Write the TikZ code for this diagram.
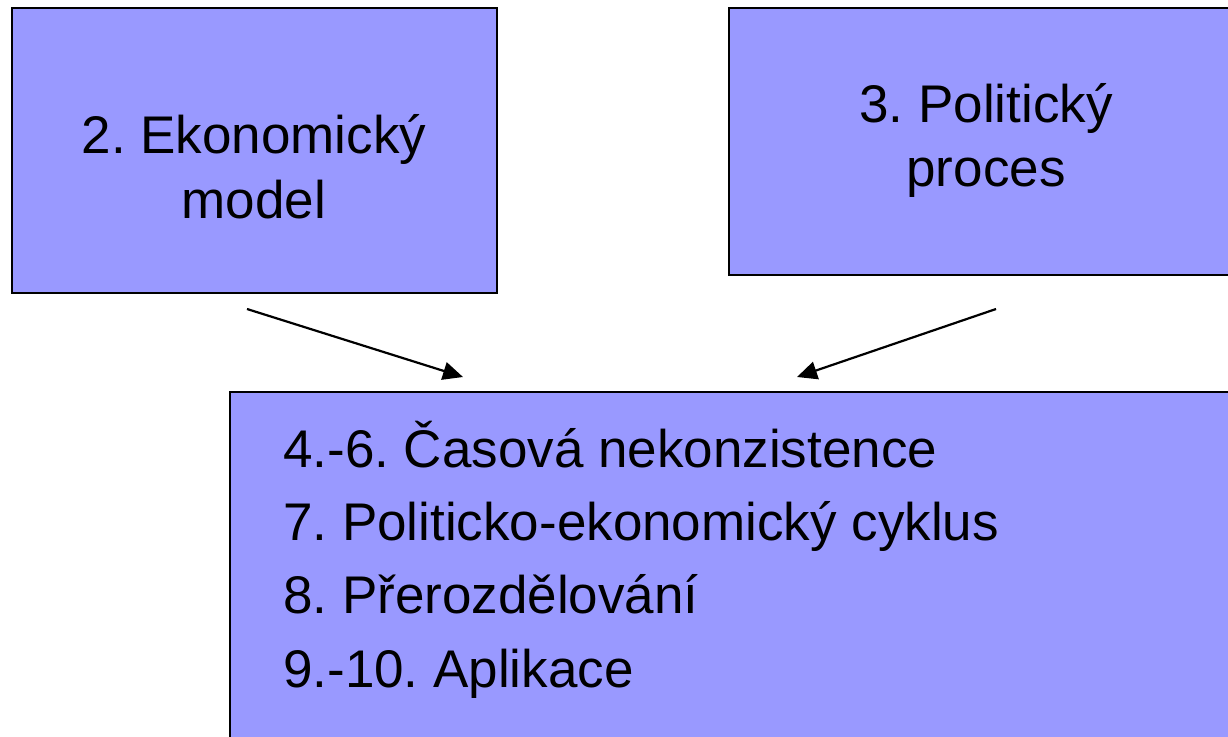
\documentclass[tikz,border=0pt]{standalone}
\usepackage{fontspec}
\setmainfont{Liberation Sans}
\usetikzlibrary{arrows.meta}
\definecolor{boxfill}{HTML}{9999FF}
\tikzset{
  box/.style={draw=black, line width=2.2pt, fill=boxfill, inner sep=0pt, outer sep=0pt},
  txt/.style={inner sep=0pt, font=\fontsize{53}{65}\selectfont, text=black},
  conn/.style={line width=2.2pt, -{Triangle[length=20pt,width=18pt]}},
}
\begin{document}
\frenchspacing
\begin{tikzpicture}[x=1pt,y=-1pt]
\useasboundingbox (0,0) rectangle (1228,736);
\clip (0,0) rectangle (1228,736);
% boxes
\node[box, minimum width=485pt, minimum height=285pt] (econ) at (254.5,150.5) {};
\node[box, minimum width=521pt, minimum height=267pt] (polit) at (989.5,141.5) {};
\node[box, minimum width=1020pt, minimum height=368pt] (topics) at (740,576) {};
% texts
\node[txt, anchor=base] (e1) at (254,153) {2. Ekonomický};
\node[txt, anchor=base] (e2) at (254,218) {model};
\node[txt, anchor=base] (p1) at (986,122) {3. Politický};
\node[txt, anchor=base] (p2) at (986,186) {proces};
\node[txt, anchor=base west] (t1) at (283,467) {4.-6. Časová nekonzistence};
\node[txt, anchor=base west] (t2) at (283,540) {7. Politicko-ekonomický cyklus};
\node[txt, anchor=base west] (t3) at (283,613) {8. Přerozdělování};
\node[txt, anchor=base west] (t4) at (283,687) {9.-10. Aplikace};
% connectors
\coordinate (a1s) at (247,309);
\coordinate (a1e) at (463,377);
\coordinate (a2s) at (996,309);
\coordinate (a2e) at (797,377);
\draw[conn] (a1s) -- (a1e);
\draw[conn] (a2s) -- (a2e);
\end{tikzpicture}
\end{document}
